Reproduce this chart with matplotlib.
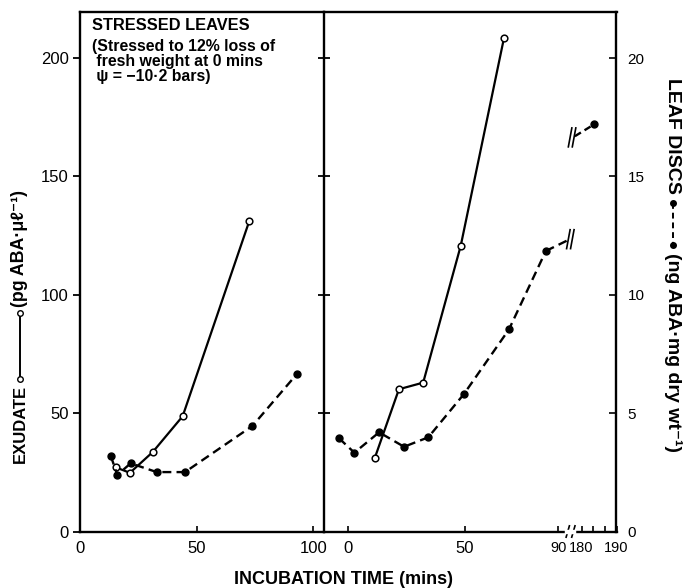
import matplotlib
matplotlib.use("Agg")
import matplotlib.pyplot as plt
from matplotlib.lines import Line2D

plt.rcParams['font.family'] = ['Liberation Sans', 'DejaVu Sans']

# ---- data ----
# left panel (stressed leaves)
exu_left_t = [15.3, 21.4, 31.2, 44.0, 72.6]
exu_left = [27.1, 24.8, 33.6, 48.7, 131.3]            # pg ABA / ul
disc_left_t = [13.2, 16.0, 21.7, 32.9, 45.0, 73.9, 93.1]
disc_left = [3.19, 2.39, 2.88, 2.51, 2.51, 4.46, 6.67]  # ng ABA / mg dry wt

# right panel
exu_right_t = [11.4, 21.7, 32.1, 48.2, 66.8]
exu_right = [31.2, 60.1, 62.9, 120.7, 208.7]
disc_right_t = [-4.0, 2.6, 13.2, 23.9, 34.3, 49.6, 68.9, 84.7]
disc_right = [3.94, 3.33, 4.19, 3.58, 3.98, 5.81, 8.54, 11.85]
# broken stretch of the disc curve (90 -> 180 mins)
disc_break_t = [84.7, 94.0]
disc_break = [11.85, 12.3]
disc_late_t = [178.1, 183.6]
disc_late = [16.7, 17.2]

exu_ticks = [0, 50, 100, 150, 200]
disc_ticks = [0, 5, 10, 15, 20]
left_xticks = [0, 50, 100]
right_xticks = [0, 50, 90, 180, 190]
right_xminor = [183.3, 186.7]
EXU_MAX = 219.6


def tx(t):
    # broken time axis: 180-190 mins squeezed in after 90
    if t <= 100:
        return t
    return 100 + (t - 180) * 1.5


def txs(ts):
    return [tx(t) for t in ts]


W, H = 685, 588
fig = plt.figure(figsize=(W / 100, H / 100), dpi=100)
bot = 1 - 531.5 / H
hgt = (531.5 - 11.7) / H
ax_l = fig.add_axes([80 / W, bot, (324.3 - 80) / W, hgt])
ax_r = fig.add_axes([324.3 / W, bot, (616.5 - 324.3) / W, hgt])
ax_l2 = ax_l.twinx()
ax_r2 = ax_r.twinx()

lw_sp = 1.7
for a in (ax_l, ax_r, ax_l2, ax_r2):
    for s in a.spines.values():
        s.set_linewidth(lw_sp)
    a.set_ylim(0, EXU_MAX)
ax_l2.set_ylim(0, EXU_MAX / 10)
ax_r2.set_ylim(0, EXU_MAX / 10)

ax_l.set_xlim(0, 104.7)
ax_r.set_xlim(-10.3, 115)

# exudate curves: solid with open circles
ekw = dict(color='black', lw=1.6, marker='o', ms=4.8, mfc='white', mec='black', mew=1.1,
           zorder=3)
ax_l.plot(exu_left_t, exu_left, **ekw)
ax_r.plot(txs(exu_right_t), exu_right, **ekw)

# leaf disc curves: dashed with filled dots
dash = (3.8, 2.2)
dkw = dict(color='black', lw=1.7, dashes=dash, marker='o', ms=5, mfc='black',
           mec='black', zorder=3)
ax_l2.plot(disc_left_t, disc_left, **dkw)
ax_r2.plot(txs(disc_right_t), disc_right, **dkw)
ax_r2.plot(txs(disc_break_t), disc_break, color='black', lw=1.7, dashes=dash)
ax_r2.plot(txs(disc_late_t), disc_late, color='black', lw=1.7, dashes=(3, 1.8),
           marker='o', ms=5, mfc='black', markevery=[1])


def slashes(ax, xc, yc, dx, dy, gap):
    for off in (-gap / 2, gap / 2):
        ax.plot([xc + off - dx, xc + off + dx], [yc - dy, yc + dy], color='black',
                lw=1.2, clip_on=False, zorder=4)


# break marks on the curve ends
slashes(ax_r2, tx(disc_break_t[-1]) + 1.2, disc_break[-1] + 0.05, 0.75, 0.4, 1.7)
slashes(ax_r2, tx(disc_late_t[0]) - 1.2, disc_late[0] - 0.05, 0.75, 0.4, 1.7)

# ticks
ax_l.set_yticks(exu_ticks)
ax_l.set_xticks(left_xticks)
ax_l.tick_params(axis='y', direction='out', length=5, width=1.3, labelsize=12, pad=3)
ax_l.tick_params(axis='x', direction='in', length=4, width=1.2, labelsize=12, pad=7)
ax_l.spines['right'].set_visible(False)
for a in (ax_l2,):
    a.set_yticks([])
    for s in a.spines.values():
        s.set_visible(False)

ax_r.set_yticks(exu_ticks)
ax_r.tick_params(axis='y', direction='inout', length=9, width=1.3, labelleft=False)
ax_r.set_xticks(txs(right_xticks))
ax_r.set_xticklabels([str(t) for t in right_xticks])
ax_r.set_xticks(txs(right_xminor), minor=True)
ax_r.tick_params(axis='x', which='both', direction='in', length=4, width=1.2, pad=7,
                 labelsize=12)
for lab in ax_r.get_xticklabels()[2:]:
    lab.set_fontsize(10.5)
ax_r.spines['right'].set_visible(False)
for k in ('left', 'top', 'bottom'):
    ax_r2.spines[k].set_visible(False)
ax_r2.set_yticks(disc_ticks)
ax_r2.tick_params(axis='y', direction='in', length=5, width=1.2, labelsize=11, pad=8)

# gap with break marks on the time axis
bx = 95.3
ax_r.plot([bx - 1.4, bx + 1.4], [0, 0], color='white', lw=3.2, clip_on=False, zorder=5)
slashes(ax_r, bx, 0, 0.7, 2.4, 2.4)

# annotations inside the left panel
ax_l.text(12 / 244.3, 1 - 13.5 / 519.8, 'STRESSED LEAVES', transform=ax_l.transAxes,
          fontsize=11.8, fontweight='bold', va='center', ha='left')
notes = ['(Stressed to 12% loss of', ' fresh weight at 0 mins', ' ψ = −10·2 bars)']
for i, line in enumerate(notes):
    ax_l.text(12 / 244.3, 1 - (35 + 15 * i) / 519.8, line, transform=ax_l.transAxes,
              fontsize=11.4, fontweight='bold', va='center', ha='left')

fig.text(344 / W, 1 - 579 / H, 'INCUBATION TIME (mins)', fontsize=13,
         fontweight='bold', ha='center', va='center')

# axis titles with the line keys embedded
renderer = fig.canvas.get_renderer()


def px2fy(py):
    return 1 - py / H


# left: reads bottom to top
xl = 20 / W
t1 = fig.text(xl, px2fy(463), 'EXUDATE', rotation=90, fontsize=12, fontweight='bold',
              ha='center', va='bottom')
h1 = t1.get_window_extent(renderer).height
y_sym0 = 463 - h1 - 3
y_sym1 = y_sym0 - 72
fig.add_artist(Line2D([xl, xl], [px2fy(y_sym0 - 3), px2fy(y_sym1 + 3)],
                      transform=fig.transFigure, color='black', lw=1.4, marker='o',
                      ms=4, mfc='white', mec='black', mew=1.0))
fig.text(xl, px2fy(y_sym1 - 3), '(pg ABA·μℓ⁻¹)', rotation=90, fontsize=12.8,
         fontweight='bold', ha='center', va='bottom')

# right: reads top to bottom
xr = 673 / W
t2 = fig.text(xr, px2fy(78), 'LEAF DISCS', rotation=-90, fontsize=14, fontweight='bold',
              ha='center', va='top')
h2 = t2.get_window_extent(renderer).height
y_s0 = 78 + h2 + 9
y_s1 = y_s0 + 42
fig.add_artist(Line2D([xr, xr], [px2fy(y_s0), px2fy(y_s1)],
                      transform=fig.transFigure, color='black', lw=1.4, dashes=(3, 2),
                      marker='o', ms=4, mfc='black', mec='black'))
fig.text(xr, px2fy(y_s1 + 8), '(ng ABA·mg dry wt⁻¹)', rotation=-90, fontsize=14,
         fontweight='bold', ha='center', va='top')

fig.savefig('out.png', dpi=100)
